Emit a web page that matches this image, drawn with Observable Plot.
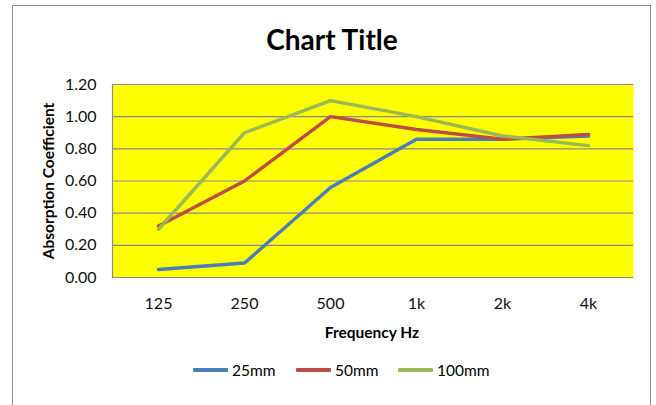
<!DOCTYPE html>
<html>
<head>
<meta charset="utf-8">
<script src="https://cdn.jsdelivr.net/npm/d3@7"></script>
<script src="https://cdn.jsdelivr.net/npm/@observablehq/plot@0.6"></script>
<style>
  html, body { margin: 0; padding: 0; background: #fff; }
  #wrap { position: relative; width: 656px; height: 405px; overflow: hidden; font-family: Lato, "Open Sans", sans-serif; }
  #wrap svg { position: absolute; left: 0; top: 0; }
  .border { position: absolute; left: 12px; top: 5px; width: 639px; height: 430px; border: 1.5px solid #8c8c8c; box-sizing: border-box; }
  .title { position: absolute; left: 12px; width: 640px; top: 22px; text-align: center; font-weight: bold; font-size: 28px; color: #000; }
  .ytitle { position: absolute; left: 48px; top: 181px; transform: translate(-50%, -50%) rotate(-90deg); white-space: nowrap; font-weight: bold; font-size: 15.5px; color: #000; }
  .xtitle { position: absolute; left: 372px; top: 332px; transform: translate(-50%, -50%); white-space: nowrap; font-weight: bold; font-size: 15.5px; color: #000; }
  .legend { position: absolute; top: 370px; left: 0; width: 656px; height: 0; }
  .item { position: absolute; top: 0; transform: translateY(-50%); display: flex; align-items: center; font-size: 15.5px; color: #000; white-space: nowrap; }
  .swatch { display: inline-block; width: 35px; height: 3.5px; margin-right: 4px; border-radius: 1px; }
</style>
</head>
<body>
<div id="wrap">
  <div class="border"></div>
</div>
<script>
const frequencies = ["125", "250", "500", "1k", "2k", "4k"];
const seriesNames = ["25mm", "50mm", "100mm"];
const values25 = [0.05, 0.09, 0.56, 0.86, 0.86, 0.88];
const values50 = [0.32, 0.60, 1.00, 0.92, 0.86, 0.89];
const values100 = [0.30, 0.90, 1.10, 1.00, 0.88, 0.82];
const yTicks = [0, 0.2, 0.4, 0.6, 0.8, 1.0, 1.2];
const colors = ["#4a7ebb", "#be4b48", "#98b954"];

const seriesValues = [values25, values50, values100];
const data = [];
seriesNames.forEach((s, i) => {
  frequencies.forEach((f, j) => data.push({series: s, freq: f, value: seriesValues[i][j]}));
});

const chart = Plot.plot({
  width: 656,
  height: 405,
  marginLeft: 112,
  marginRight: 23,
  marginTop: 84,
  marginBottom: 128,
  style: {fontFamily: "Lato, 'Open Sans', sans-serif", fontSize: "16px", color: "#111", background: "transparent"},
  x: {type: "point", domain: frequencies, padding: 0.5, label: null},
  y: {domain: [0, 1.2], label: null},
  color: {domain: seriesNames, range: colors},
  marks: [
    Plot.frame({fill: "#ffff00", stroke: null}),
    Plot.ruleY(yTicks, {stroke: "#8a8a8a", strokeWidth: 1.2, strokeOpacity: 1}),
    Plot.frame({anchor: "left", stroke: "#8a8a8a", strokeWidth: 1.2}),
    Plot.axisY({ticks: yTicks, tickFormat: d3.format(".2f"), tickSize: 0, tickPadding: 16, fontSize: 16, label: null}),
    Plot.axisX({tickSize: 0, tickPadding: 20, fontSize: 16, label: null}),
    Plot.line(data, {x: "freq", y: "value", z: "series", stroke: "series", strokeWidth: 3.4, strokeLinejoin: "round", strokeLinecap: "round"})
  ]
});

const wrap = document.getElementById("wrap");
wrap.appendChild(chart);

function addDiv(cls, text) {
  const d = document.createElement("div");
  d.className = cls;
  d.textContent = text;
  wrap.appendChild(d);
  return d;
}
addDiv("title", "Chart Title");
addDiv("ytitle", "Absorption Coefficient");
addDiv("xtitle", "Frequency Hz");

const legend = document.createElement("div");
legend.className = "legend";
const legendLefts = [193, 296, 398];
seriesNames.forEach((s, i) => {
  const item = document.createElement("div");
  item.className = "item";
  item.style.left = legendLefts[i] + "px";
  const sw = document.createElement("span");
  sw.className = "swatch";
  sw.style.background = colors[i];
  item.appendChild(sw);
  item.appendChild(document.createTextNode(s));
  legend.appendChild(item);
});
wrap.appendChild(legend);
</script>
</body>
</html>
